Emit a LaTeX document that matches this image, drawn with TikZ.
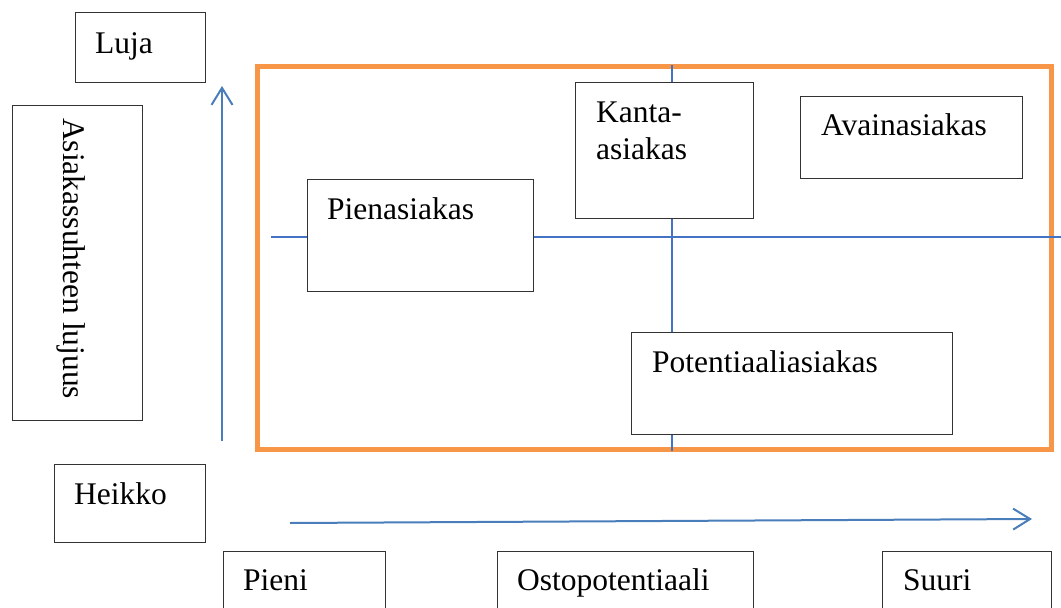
\documentclass[tikz,border=0pt]{standalone}
\usepackage{fontspec}
\setmainfont{Liberation Serif}
\usetikzlibrary{arrows.meta}
\definecolor{axisblue}{RGB}{74,126,187}
\definecolor{quadblue}{RGB}{68,114,196}
\definecolor{frameorange}{RGB}{247,150,70}
\tikzset{
  box/.style={draw=black!80, line width=1.1pt, fill=white, inner sep=0pt, anchor=north west},
  lbl/.style={inner sep=0pt, anchor=base west, font=\fontsize{31.5}{37}\selectfont},
  axisarrow/.style={draw=axisblue, line width=2pt, -{Straight Barb[length=17pt,width=21pt]}},
  quadline/.style={draw=quadblue, line width=1.6pt},
  frameline/.style={draw=frameorange, line width=5pt}
}
\begin{document}
\begin{tikzpicture}[x=1pt,y=1pt]
\useasboundingbox (0,0) rectangle (1061,-608);
% frame
\draw[frameline] (257.5,-66) rectangle (1051,-449.5);
% quadrant lines
\coordinate (hl) at (271,-237);
\coordinate (hr) at (1061,-237);
\coordinate (vt) at (672,-65);
\coordinate (vb) at (672,-451);
\draw[quadline] (hl) -- (hr);
\draw[quadline] (vt) -- (vb);
% axes
\coordinate (ys) at (222,-441);
\coordinate (ye) at (222,-86);
\coordinate (xs) at (290,-523);
\coordinate (xe) at (1032,-519);
\draw[axisarrow] (ys) -- (ye);
\draw[axisarrow] (xs) -- (xe);
% boxes
\node[box, minimum width=130pt, minimum height=70pt] (luja) at (75,-12) {};
\node[lbl] (lujat) at (95,-53) {Luja};
\node[box, minimum width=130pt, minimum height=315pt] (asiak) at (12,-105) {};
\node[lbl, rotate=-90] (asiakt) at (63,-118) {Asiakassuhteen lujuus};
\node[box, minimum width=151pt, minimum height=78pt] (heikko) at (54,-464) {};
\node[lbl] (heikkot) at (74,-504) {Heikko};
\node[box, minimum width=162pt, minimum height=80pt] (pieni) at (223,-551) {};
\node[lbl] (pienit) at (243,-590) {Pieni};
\node[box, minimum width=256pt, minimum height=80pt] (ostop) at (497,-551) {};
\node[lbl] (ostopt) at (517,-590) {Ostopotentiaali};
\node[box, minimum width=169pt, minimum height=80pt] (suuri) at (882,-551) {};
\node[lbl] (suurit) at (903,-590) {Suuri};
\node[box, minimum width=226pt, minimum height=112pt] (pienas) at (307,-179) {};
\node[lbl] (pienast) at (327,-219) {Pienasiakas};
\node[box, minimum width=178pt, minimum height=136pt] (kanta) at (575,-82) {};
\node[lbl] (kantat) at (596,-122) {\parbox[t]{150pt}{\raggedright Kanta-\\asiakas}};
\node[box, minimum width=222pt, minimum height=82pt] (avain) at (800,-96) {};
\node[lbl] (avaint) at (821,-135) {Avainasiakas};
\node[box, minimum width=321pt, minimum height=102pt] (potent) at (631,-332) {};
\node[lbl] (potentt) at (652,-372) {Potentiaaliasiakas};
\end{tikzpicture}
\end{document}
